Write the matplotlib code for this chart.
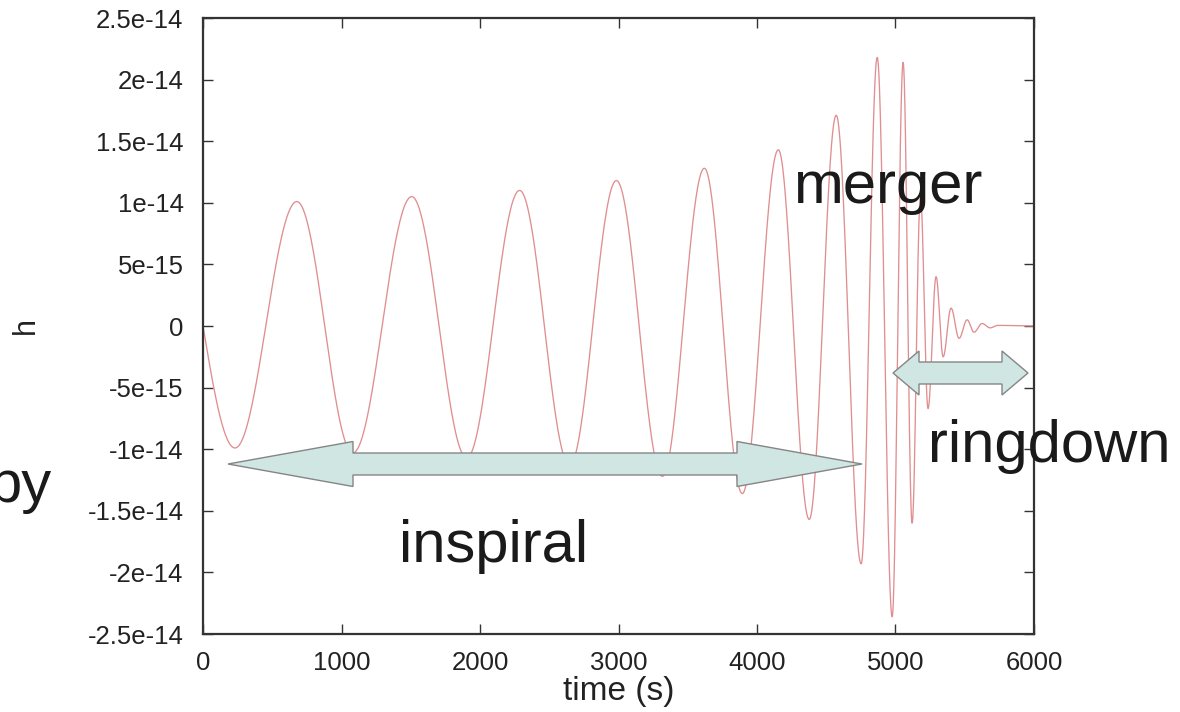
import numpy as np
import matplotlib.pyplot as plt
from matplotlib.patches import Polygon

# extrema of the waveform (time in s, strain h)
ext_t = [0, 231, 678, 1082, 1507, 1904, 2286, 2647, 2985, 3317, 3620, 3894,
         4154, 4377, 4572, 4752, 4868, 4976, 5055, 5120, 5180, 5235, 5293,
         5344, 5401, 5459, 5517, 5567, 5625, 5683, 5740, 6000]
ext_h = [0, -9.9e-15, 1.01e-14, -1.03e-14, 1.05e-14, -1.07e-14, 1.10e-14,
         -1.13e-14, 1.18e-14, -1.22e-14, 1.28e-14, -1.36e-14, 1.43e-14,
         -1.57e-14, 1.71e-14, -1.93e-14, 2.18e-14, -2.36e-14, 2.14e-14,
         -1.60e-14, 1.05e-14, -6.7e-15, 4.0e-15, -2.5e-15, 1.45e-15,
         -1.0e-15, 5e-16, -5e-16, 2e-16, -1.5e-16, 5e-17, 0]

x_ticks = [0, 1000, 2000, 3000, 4000, 5000, 6000]
y_ticks = [2.5e-14, 2e-14, 1.5e-14, 1e-14, 5e-15, 0, -5e-15, -1e-14,
           -1.5e-14, -2e-14, -2.5e-14]
y_tick_labels = ['2.5e-14', '2e-14', '1.5e-14', '1e-14', '5e-15', '0',
                 '-5e-15', '-1e-14', '-1.5e-14', '-2e-14', '-2.5e-14']

plt.rcParams['font.family'] = ['Liberation Sans', 'DejaVu Sans']

# smooth half-cycles between the read extrema
tt, hh = [], []
for i in range(len(ext_t) - 1):
    s = np.linspace(0, 1, 80)
    if i == 0:
        seg = ext_h[1] * np.sin(np.pi / 2 * s)
    else:
        seg = ext_h[i] + (ext_h[i + 1] - ext_h[i]) * (1 - np.cos(np.pi * s)) / 2
    tt.extend(ext_t[i] + (ext_t[i + 1] - ext_t[i]) * s)
    hh.extend(seg)

W, H = 1180, 712
fig = plt.figure(figsize=(W / 100, H / 100), dpi=100)
ax = fig.add_axes([203 / W, 1 - 634 / H, (1034 - 203) / W, (634 - 18) / H])
ax.plot(tt, hh, color='#e08e90', lw=0.95)
ax.set_xlim(0, 6000)
ax.set_ylim(-2.5e-14, 2.5e-14)
ax.set_xticks(x_ticks)
ax.set_xticklabels([str(t) for t in x_ticks])
ax.set_yticks(y_ticks)
ax.set_yticklabels(y_tick_labels)
ax.tick_params(direction='in', length=7, width=1, labelsize=18.5, pad=12,
               top=True, right=True, colors='#333333', labelcolor='#222222')
ax.tick_params(axis='y', pad=14)
for sp in ax.spines.values():
    sp.set_linewidth(1.6)
    sp.set_color('#333333')
ax.set_xlabel('time (s)', fontsize=24, color='#222222', labelpad=1)
fig.text(26 / W, 1 - 326 / H, 'h', fontsize=22, rotation=90,
         ha='center', va='center', color='#222222')


def px(x, y):
    return (x / W, 1 - y / H)


def double_arrow(x0, x1, yc, shaft, head, head_len):
    pts = [(x0, yc), (x0 + head_len, yc - head), (x0 + head_len, yc - shaft),
           (x1 - head_len, yc - shaft), (x1 - head_len, yc - head), (x1, yc),
           (x1 - head_len, yc + head), (x1 - head_len, yc + shaft),
           (x0 + head_len, yc + shaft), (x0 + head_len, yc + head)]
    poly = Polygon([px(a, b) for a, b in pts], closed=True,
                   transform=fig.transFigure, facecolor='#cfe6e3',
                   edgecolor='#858585', lw=1.0, zorder=5, clip_on=False)
    fig.patches.append(poly)


double_arrow(228, 862, 464, 11, 22.5, 125)
double_arrow(893, 1028, 373, 11, 22, 26)

fig.text(793 / W, 1 - 203 / H, 'merger', fontsize=43, color='#1a1a1a', zorder=6)
fig.text(399 / W, 1 - 562 / H, 'inspiral', fontsize=43, color='#1a1a1a', zorder=6)
fig.text(928 / W, 1 - 462 / H, 'ringdown', fontsize=43, color='#1a1a1a', zorder=6)
# partial word cut by the left edge, as in the source slide
fig.text(-12 / W, 1 - 502 / H, 'by', fontsize=43, color='#1a1a1a', zorder=6)

fig.savefig('out.png', dpi=100)
